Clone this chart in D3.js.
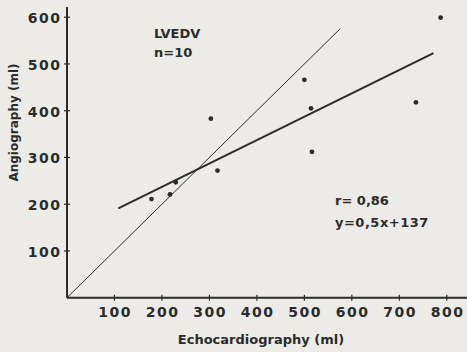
<!DOCTYPE html>
<html><head><meta charset="utf-8">
<script src="https://cdn.jsdelivr.net/npm/d3@7"></script>
<style>
html,body{margin:0;padding:0;background:#ecebe8;}
svg{display:block;}
text{font-family:"DejaVu Sans",sans-serif;fill:#2b2b2b;font-weight:bold;}
</style></head><body>
<svg id="c" width="467" height="352"></svg>
<script>
const echo = [178, 217, 229, 303, 317, 500, 514, 516, 735, 787];
const angio = [211, 221, 247, 383, 272, 466, 405, 312, 418, 599];
const xTicks = [100, 200, 300, 400, 500, 600, 700, 800];
const yTicks = [100, 200, 300, 400, 500, 600];
const regression = {slope: 0.5, intercept: 137, from: 108, to: 772};
const identityEnd = 575;
const labels = {title: "LVEDV", n: "n=10", r: "r= 0,86", eq: "y=0,5x+137",
  xLabel: "Echocardiography (ml)", yLabel: "Angiography (ml)"};

const svg = d3.select("#c");
const x = d3.scaleLinear().domain([0, 800]).range([67, 446.8]);
const y = d3.scaleLinear().domain([0, 600]).range([297.7, 17.2]);
const ink = "#2b2b2b";
const ls = 1.5;

// axes
const xAxis = svg.append("g").attr("transform", "translate(0,297.7)");
xAxis.append("line").attr("x1", x(0)).attr("x2", 467).attr("stroke", ink).attr("stroke-width", 2);
xAxis.selectAll("line.t").data(xTicks).join("line").attr("class","t")
  .attr("x1", d => x(d)).attr("x2", d => x(d)).attr("y1", -3).attr("y2", 3)
  .attr("stroke", ink).attr("stroke-width", 1.2);
xAxis.selectAll("text").data(xTicks).join("text")
  .attr("x", d => x(d) + ls / 2).attr("y", 19).attr("text-anchor", "middle")
  .attr("font-size", 14).attr("letter-spacing", ls).text(d => d);

const yAxis = svg.append("g").attr("transform", "translate(67,0)");
yAxis.append("line").attr("y1", y(0)).attr("y2", 7).attr("stroke", ink).attr("stroke-width", 2);
yAxis.selectAll("line.t").data(yTicks).join("line").attr("class","t")
  .attr("y1", d => y(d)).attr("y2", d => y(d)).attr("x1", -3).attr("x2", 3)
  .attr("stroke", ink).attr("stroke-width", 1.2);
yAxis.selectAll("text").data(yTicks).join("text")
  .attr("x", -7 + ls).attr("y", d => y(d) + 1).attr("dy", "0.36em").attr("text-anchor", "end")
  .attr("font-size", 14).attr("letter-spacing", ls).text(d => d);

// identity line
svg.append("line").attr("x1", x(0)).attr("y1", y(0)).attr("x2", x(identityEnd)).attr("y2", y(identityEnd))
  .attr("stroke", ink).attr("stroke-width", 1);
// regression line
svg.append("line")
  .attr("x1", x(regression.from)).attr("y1", y(regression.slope*regression.from + regression.intercept))
  .attr("x2", x(regression.to)).attr("y2", y(regression.slope*regression.to + regression.intercept))
  .attr("stroke", ink).attr("stroke-width", 2);

// points
svg.selectAll("circle").data(echo).join("circle")
  .attr("cx", d => x(d)).attr("cy", (d, i) => y(angio[i])).attr("r", 2.4).attr("fill", ink);

// annotations
svg.append("text").attr("x", 154).attr("y", 38).attr("font-size", 13).text(labels.title);
svg.append("text").attr("x", 154).attr("y", 57).attr("font-size", 13).text(labels.n);
svg.append("text").attr("x", 335).attr("y", 205).attr("font-size", 13).text(labels.r);
svg.append("text").attr("x", 335).attr("y", 227).attr("font-size", 13).attr("letter-spacing", 0.5).text(labels.eq);

svg.append("text").attr("x", 261).attr("y", 344).attr("text-anchor", "middle")
  .attr("font-size", 13).text(labels.xLabel);
svg.append("text").attr("transform", "translate(18,122.5) rotate(-90)").attr("text-anchor", "middle")
  .attr("font-size", 12).text(labels.yLabel);
</script>
</body></html>
